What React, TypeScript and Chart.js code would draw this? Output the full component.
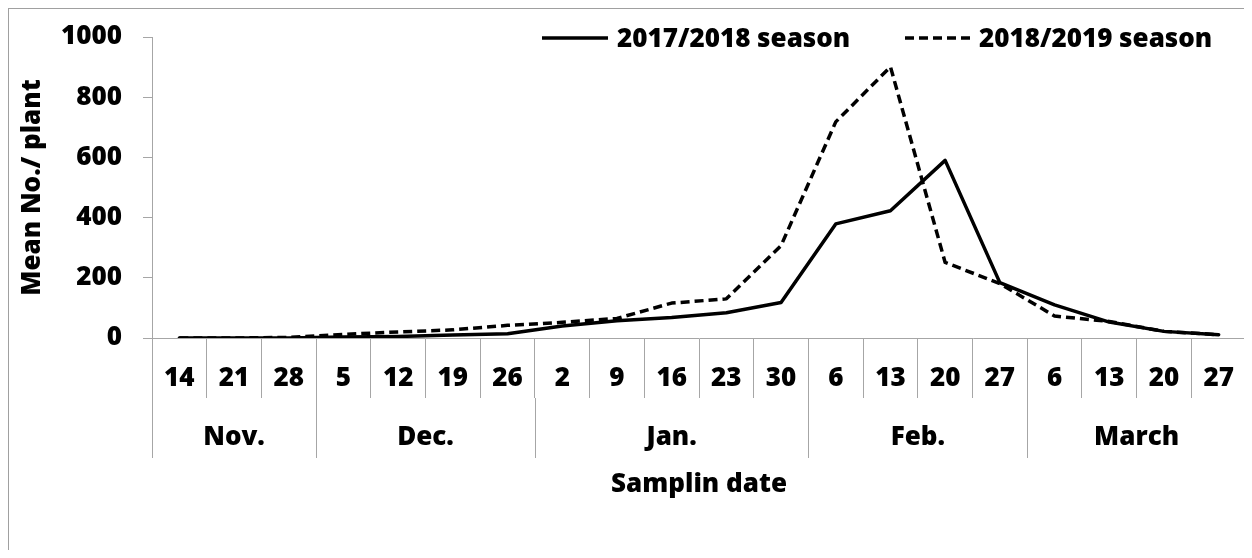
import React, { useEffect, useRef } from "react";
import { Chart, registerables } from "chart.js";

Chart.register(...registerables);

// ---- data ----
const dayLabels = ["14", "21", "28", "5", "12", "19", "26", "2", "9", "16", "23", "30", "6", "13", "20", "27", "6", "13", "20", "27"];
const monthLabels = ["Nov.", "Dec.", "Jan.", "Feb.", "March"];
const monthSpans = [3, 4, 5, 4, 4];
const season2017 = [0, 0, 0, 3, 5, 10, 14, 40, 57, 68, 84, 118, 379, 423, 590, 184, 110, 53, 22, 11];
const season2018 = [0, 0, 2, 12, 20, 27, 42, 52, 65, 116, 130, 307, 718, 901, 251, 181, 73, 55, 22, 11];
const seriesNames = ["2017/2018 season", "2018/2019 season"];
const yMin = 0;
const yMax = 1000;
const yStep = 200;
const yTitle = "Mean No./ plant";
const xTitle = "Samplin date";

const FONT = "'Open Sans', Lato, sans-serif";
const FSIZE = 26;
const WEIGHT = "800";
const GRAY = "#a6a6a6";

const groupPlugin = {
  id: "monthGroups",
  afterDraw(chart: any) {
    const x = chart.scales.x;
    const ctx = chart.ctx;
    const half = (x.getPixelForValue(1) - x.getPixelForValue(0)) / 2;
    const axisY = chart.chartArea.bottom;
    const bounds = [0];
    let acc = 0;
    monthSpans.forEach((s) => {
      acc += s;
      bounds.push(acc);
    });
    ctx.save();
    ctx.strokeStyle = GRAY;
    ctx.lineWidth = 1;
    bounds.forEach((b) => {
      const px = Math.round(x.getPixelForValue(b) - half) + 0.5;
      ctx.beginPath();
      ctx.moveTo(px, axisY + 60);
      ctx.lineTo(px, axisY + 120);
      ctx.stroke();
    });
    ctx.font = `${WEIGHT} ${FSIZE}px ${FONT}`;
    ctx.fillStyle = "#000";
    ctx.textAlign = "center";
    ctx.textBaseline = "middle";
    monthLabels.forEach((m, i) => {
      const a = x.getPixelForValue(bounds[i]) - half;
      const b = x.getPixelForValue(bounds[i + 1]) - half;
      ctx.fillText(m, (a + b) / 2, axisY + 100);
    });
    ctx.restore();
  },
};

const legendPlugin = {
  id: "customLegend",
  afterDraw(chart: any) {
    const ctx = chart.ctx;
    const items = [
      { x: 533, len: 66, dash: [] as number[] },
      { x: 896, len: 65, dash: [9, 5] },
    ];
    const y = 29;
    ctx.save();
    items.forEach((it, i) => {
      ctx.strokeStyle = "#000";
      ctx.lineWidth = 3.5;
      ctx.setLineDash(it.dash);
      ctx.beginPath();
      ctx.moveTo(it.x, y);
      ctx.lineTo(it.x + it.len, y);
      ctx.stroke();
      ctx.setLineDash([]);
      ctx.font = `${WEIGHT} ${FSIZE}px ${FONT}`;
      ctx.fillStyle = "#000";
      ctx.textAlign = "left";
      ctx.textBaseline = "middle";
      ctx.fillText(chart.data.datasets[i].label, it.x + it.len + 9, y + 2);
    });
    ctx.restore();
  },
};

export default function App() {
  const ref = useRef<HTMLCanvasElement | null>(null);

  useEffect(() => {
    if (!ref.current) return;
    const font = { family: FONT, size: FSIZE, weight: WEIGHT };
    const chart = new Chart(ref.current, {
      type: "line",
      data: {
        labels: dayLabels,
        datasets: [
          {
            label: seriesNames[0],
            data: season2017,
            borderColor: "#000",
            backgroundColor: "#000",
            borderWidth: 3.5,
            pointRadius: 0,
            tension: 0,
            borderJoinStyle: "round",
            borderCapStyle: "round",
          },
          {
            label: seriesNames[1],
            data: season2018,
            borderColor: "#000",
            backgroundColor: "#000",
            borderWidth: 3.5,
            borderDash: [9, 5],
            pointRadius: 0,
            tension: 0,
            borderJoinStyle: "round",
          },
        ],
      },
      options: {
        responsive: false,
        animation: false,
        layout: { padding: { left: 0, top: 28, right: 6, bottom: 50 } },
        plugins: {
          legend: { display: false },
          tooltip: { enabled: false },
        },
        scales: {
          x: {
            type: "category",
            offset: true,
            grid: {
              offset: true,
              drawOnChartArea: false,
              drawTicks: true,
              tickLength: 60,
              color: GRAY,
              lineWidth: 1,
            },
            border: { display: true, color: GRAY, width: 1 },
            ticks: {
              autoSkip: false,
              maxRotation: 0,
              minRotation: 0,
              padding: -35,
              color: "#000",
              font,
            },
            title: {
              display: true,
              text: xTitle,
              color: "#000",
              padding: { top: 0, bottom: 0 },
              font,
            },
            afterFit: (scale: any) => {
              scale.height = 162;
              scale.paddingLeft = 0;
              scale.paddingRight = 0;
            },
          },
          y: {
            min: yMin,
            max: yMax,
            ticks: {
              stepSize: yStep,
              padding: 21,
              color: "#000",
              font,
              callback: (v: any) => String(v),
            },
            grid: {
              drawOnChartArea: false,
              drawTicks: true,
              tickLength: 9,
              color: GRAY,
            },
            border: { display: true, color: GRAY, width: 1 },
            title: {
              display: true,
              text: yTitle,
              color: "#000",
              padding: { top: 8, bottom: 0 },
              font,
            },
            afterFit: (scale: any) => {
              scale.width = 143;
              scale.paddingTop = 0;
              scale.paddingBottom = 0;
            },
          },
        },
      },
      plugins: [groupPlugin, legendPlugin],
    });
    return () => chart.destroy();
  }, []);

  return (
    <div
      style={{
        position: "relative",
        width: 1244,
        height: 542,
        boxSizing: "border-box",
        borderTop: "1px solid #a0a0a0",
        borderLeft: "1px solid #a0a0a0",
        background: "#fff",
        overflow: "hidden",
      }}
    >
      <canvas ref={ref} width={1243} height={541} style={{ display: "block", width: 1243, height: 541 }} />
    </div>
  );
}
